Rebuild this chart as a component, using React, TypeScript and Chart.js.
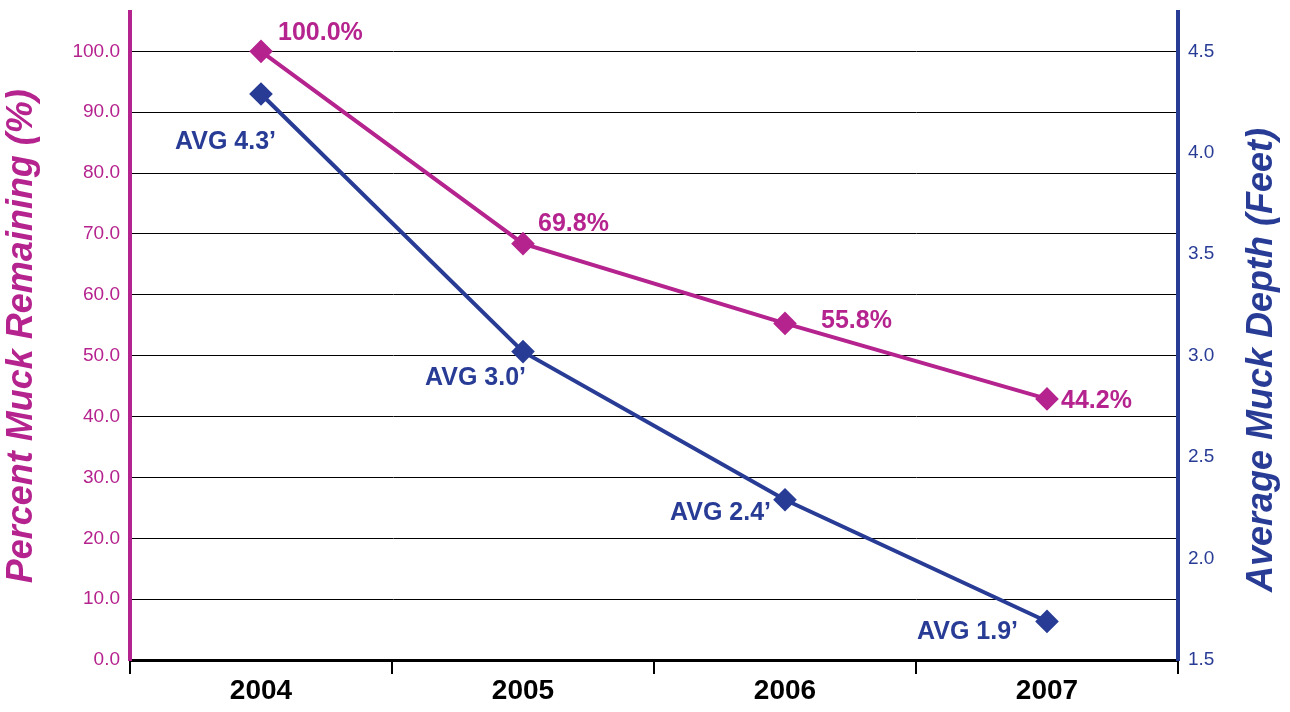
import React, { useEffect, useRef } from "react";
import { Chart, registerables } from "chart.js";
Chart.register(...registerables);

const years = ["2004", "2005", "2006", "2007"];
const percentValues = [100, 68.4, 55.3, 42.9];
const percentLabels = ["100.0%", "69.8%", "55.8%", "44.2%"];
const depthValues = [4.29, 3.02, 2.29, 1.69];
const depthLabels = ["AVG 4.3\u2019", "AVG 3.0\u2019", "AVG 2.4\u2019", "AVG 1.9\u2019"];
const pctOffsets = [[17, -18, "left"], [15, -20, "left"], [36, -2, "left"], [14, 2, "left"]];
const depOffsets = [[15, 48, "right"], [3, 26, "right"], [-14, 13, "right"], [-29, 11, "right"]];
const rightTitle = "Average Muck Depth (Feet)";

const MAG = "#B5238E";
const BLUE = "#283C96";
const FONT = "'Liberation Sans', Arial, sans-serif";
const SHIFT = 9;

export default function App() {
  const ref = useRef<HTMLCanvasElement>(null);
  useEffect(() => {
    document.body.style.margin = "0";
    document.body.style.overflow = "hidden";
    const labelPlugin = {
      id: "lbls",
      afterDatasetsDraw(chart: any) {
        const ctx = chart.ctx;
        ctx.save();
        ctx.font = "bold 25px " + FONT;
        ctx.textBaseline = "middle";
        const draw = (di: number, texts: string[], offs: any[], color: string) => {
          const meta = chart.getDatasetMeta(di);
          meta.data.forEach((p: any, i: number) => {
            ctx.fillStyle = color;
            ctx.textAlign = offs[i][2];
            ctx.fillText(texts[i], p.x + offs[i][0], p.y + offs[i][1]);
          });
        };
        draw(0, percentLabels, pctOffsets, MAG);
        draw(1, depthLabels, depOffsets, BLUE);
        ctx.translate(1262, 360 + SHIFT);
        ctx.rotate(-Math.PI / 2);
        ctx.font = "italic bold 36px " + FONT;
        ctx.textAlign = "center";
        ctx.fillStyle = BLUE;
        ctx.fillText(rightTitle, 0, 0);
        ctx.restore();
      },
    };
    const c = new Chart(ref.current!, {
      type: "line",
      data: {
        labels: years,
        datasets: [
          { data: percentValues, borderColor: MAG, backgroundColor: MAG, borderWidth: 4, pointStyle: "rectRot", pointRadius: 9, yAxisID: "y" },
          { data: depthValues, borderColor: BLUE, backgroundColor: BLUE, borderWidth: 4, pointStyle: "rectRot", pointRadius: 9, yAxisID: "y1" },
        ],
      },
      options: {
        animation: false,
        responsive: false,
        layout: { padding: 0 },
        plugins: { legend: { display: false }, tooltip: { enabled: false } },
        scales: {
          x: {
            offset: true,
            border: { color: "#000", width: 3 },
            grid: { offset: true, drawOnChartArea: false, color: "#000", lineWidth: 2, tickLength: 14 },
            ticks: { color: "#000", font: { size: 28, weight: "bold", family: FONT }, padding: 0 },
            afterFit: (s: any) => { s.height = 52; },
          },
          y: {
            position: "left",
            min: 0, max: 106.4,
            border: { color: MAG, width: 4 },
            grid: { color: "#000", lineWidth: 1, drawTicks: false },
            afterBuildTicks: (s: any) => { s.ticks = s.ticks.filter((t: any) => Math.abs(t.value / 10 - Math.round(t.value / 10)) < 1e-6); },
            ticks: { stepSize: 10, color: MAG, padding: 10, font: { size: 19, family: FONT }, callback: (v: any) => Number(v).toFixed(1) },
            title: { display: true, text: "Percent Muck Remaining (%)", color: MAG, padding: 0, font: { size: 36, weight: "bold", style: "italic", family: FONT } },
            afterFit: (s: any) => { s.width = 130; },
          },
          y1: {
            position: "right",
            min: 1.5, max: 4.692,
            border: { color: BLUE, width: 4 },
            grid: { drawOnChartArea: false, drawTicks: false },
            afterBuildTicks: (s: any) => { s.ticks = s.ticks.filter((t: any) => Math.abs(t.value * 2 - Math.round(t.value * 2)) < 1e-6); },
            ticks: { stepSize: 0.5, color: BLUE, padding: 10, font: { size: 19, family: FONT }, callback: (v: any) => Number(v).toFixed(1) },
            afterFit: (s: any) => { s.width = 112; },
          },
        },
      },
      plugins: [labelPlugin],
    } as any);
    return () => c.destroy();
  }, []);
  return <canvas ref={ref} width={1290} height={712 + SHIFT} style={{ display: "block", marginTop: -SHIFT }} />;
}
